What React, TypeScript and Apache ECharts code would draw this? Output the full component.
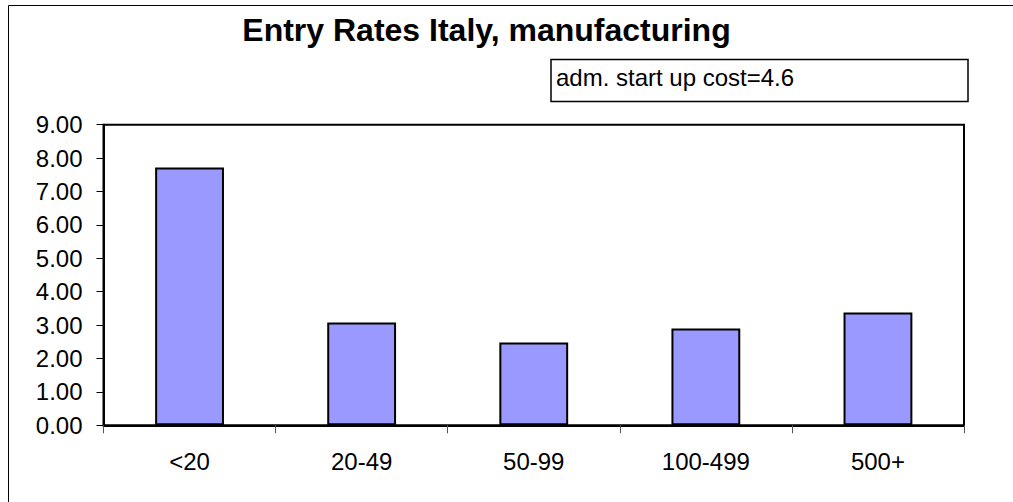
import React, { useEffect, useRef } from "react";
import * as echarts from "echarts";

const categories = ["<20", "20-49", "50-99", "100-499", "500+"];
const entryRates = [7.72, 3.08, 2.48, 2.9, 3.38];
const chartTitle = "Entry Rates Italy, manufacturing";
const legendNote = "adm. start up cost=4.6";

const FONT = "'Liberation Sans', Arial, Helvetica, sans-serif";

export default function App() {
  const ref = useRef<HTMLDivElement>(null);

  useEffect(() => {
    if (!ref.current) return;
    const chart = echarts.init(ref.current, undefined, { renderer: "svg" });
    chart.setOption({
      animation: false,
      backgroundColor: "#ffffff",
      grid: {
        left: 103.5,
        top: 124.7,
        right: 49,
        bottom: 76.7,
        show: true,
        borderColor: "#000000",
        borderWidth: 2,
        backgroundColor: "transparent",
      },
      xAxis: {
        type: "category",
        data: categories,
        axisLine: { show: true, lineStyle: { color: "#000000", width: 2 } },
        axisTick: { show: true, length: 8, lineStyle: { color: "#555555", width: 1 } },
        axisLabel: { color: "#000000", fontFamily: FONT, fontSize: 24, margin: 24 },
        splitLine: { show: false },
      },
      yAxis: {
        type: "value",
        min: 0,
        max: 9,
        interval: 1,
        axisLine: { show: true, lineStyle: { color: "#000000", width: 2 } },
        axisTick: { show: true, length: 7, lineStyle: { color: "#000000", width: 1 } },
        axisLabel: {
          color: "#000000",
          fontFamily: FONT,
          fontSize: 24,
          margin: 21,
          formatter: (v: number) => v.toFixed(2),
        },
        splitLine: { show: false },
      },
      series: [
        {
          type: "bar",
          data: entryRates,
          barWidth: "40%",
          itemStyle: { color: "#9999ff", borderColor: "#000000", borderWidth: 2 },
        },
      ],
      graphic: [
        {
          type: "rect",
          shape: { x: 8.5, y: 5.5, width: 1010, height: 500 },
          style: { fill: "none", stroke: "#000000", lineWidth: 1 },
          silent: true,
        },
        {
          type: "text",
          x: 486.5,
          y: 29.5,
          style: {
            text: chartTitle,
            font: `bold 32px ${FONT}`,
            fill: "#000000",
            textAlign: "center",
            textVerticalAlign: "middle",
          },
          silent: true,
        },
        {
          type: "rect",
          shape: { x: 551, y: 59.5, width: 417, height: 42 },
          style: { fill: "#ffffff", stroke: "#000000", lineWidth: 1.5 },
          silent: true,
        },
        {
          type: "text",
          x: 556,
          y: 77.5,
          style: {
            text: legendNote,
            font: `24px ${FONT}`,
            fill: "#000000",
            textAlign: "left",
            textVerticalAlign: "middle",
          },
          silent: true,
        },
      ],
    });
    return () => chart.dispose();
  }, []);

  return (
    <div
      ref={ref}
      style={{ position: "fixed", left: 0, top: 0, width: 1013, height: 502 }}
    />
  );
}
